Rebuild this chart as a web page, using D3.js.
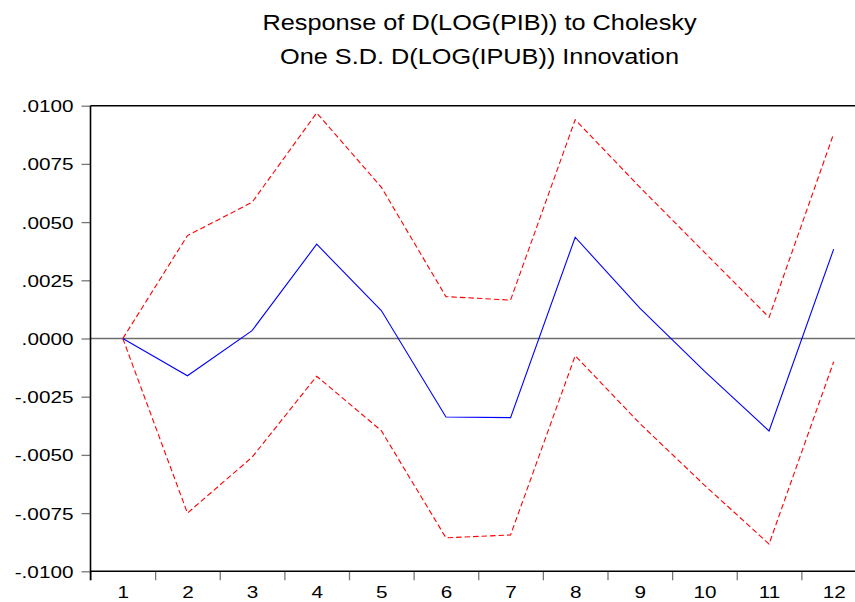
<!DOCTYPE html>
<html>
<head>
<meta charset="utf-8">
<script src="https://cdn.jsdelivr.net/npm/d3@7"></script>
<style>
  html, body { margin: 0; padding: 0; background: #fff; }
  svg { display: block; }
  text { font-family: "Liberation Sans", Arial, sans-serif; fill: #000; }
</style>
</head>
<body>
<script>
// Impulse response of D(LOG(PIB)) to a one S.D. D(LOG(IPUB)) shock, with ±2 S.E. bands
const periods = [1, 2, 3, 4, 5, 6, 7, 8, 9, 10, 11, 12];
const response = [0.0000, -0.0016, 0.00034, 0.00405, 0.0012, -0.00337, -0.0034, 0.00435, 0.0013, -0.0014, -0.00397, 0.00384];
const upperBand = [0.0000, 0.00442, 0.00585, 0.00969, 0.0065, 0.0018, 0.00165, 0.0094, 0.0065, 0.0037, 0.00091, 0.0088];
const lowerBand = [0.0000, -0.0075, -0.0051, -0.00162, -0.00396, -0.00856, -0.00844, -0.00074, -0.00365, -0.0063, -0.00883, -0.0010];
const yTicks = [0.01, 0.0075, 0.005, 0.0025, 0, -0.0025, -0.005, -0.0075, -0.01];
const titleLines = ["Response of D(LOG(PIB)) to Cholesky", "One S.D. D(LOG(IPUB)) Innovation"];

const W = 855, H = 602;
const plot = { left: 90.5, right: 866, top: 105.7, bottom: 571.3 };
const textStretch = 1.22;

const svg = d3.select("body").append("svg").attr("width", W).attr("height", H);

// x: continuous scale so the tick marks fall between periods
const x = d3.scaleLinear().domain([0.5, 12.5]).range([plot.left, plot.right]);
const y = d3.scaleLinear().domain([-0.01, 0.01]).range([plot.bottom, plot.top]);

// title
svg.append("g").selectAll("text").data(titleLines).join("text")
  .attr("text-anchor", "middle")
  .attr("font-size", 22)
  .attr("transform", (d, i) => `translate(479.5,${29.5 + i * 34.5}) scale(1.15,1)`)
  .text(d => d);

// zero reference line
svg.append("line")
  .attr("x1", plot.left).attr("x2", plot.right)
  .attr("y1", y(0)).attr("y2", y(0))
  .attr("stroke", "#6e6e6e").attr("stroke-width", 1.4);

// y axis
const yAxis = svg.append("g").attr("transform", `translate(${plot.left},0)`)
  .call(d3.axisLeft(y).tickValues(yTicks).tickSize(9)
    .tickFormat(d => {
      if (d === 0) return ".0000";
      const s = d3.format(".4f")(Math.abs(d)).replace(/^0/, "");
      return (d < 0 ? "-" : "") + s;
    }));
yAxis.select(".domain").remove();
yAxis.selectAll(".tick line").attr("stroke", "#777").attr("stroke-width", 1.3);
yAxis.selectAll(".tick text")
  .attr("x", 0).attr("dy", "0.35em")
  .attr("font-size", 17)
  .attr("transform", `translate(-17,0) scale(${textStretch},1)`);

// x axis: marks at the period boundaries
const bounds = d3.range(0.5, 12.6, 1);
const xMarks = svg.append("g").attr("transform", `translate(0,${plot.bottom})`)
  .call(d3.axisBottom(x).tickValues(bounds).tickSize(9).tickFormat(""));
xMarks.select(".domain").remove();
xMarks.selectAll(".tick line").attr("stroke", "#777").attr("stroke-width", 1.3);

// x axis: period labels at band centres
const xLabels = svg.append("g").attr("transform", `translate(0,${plot.bottom})`)
  .call(d3.axisBottom(x).tickValues(periods).tickSize(0).tickFormat(d3.format("d")));
xLabels.select(".domain").remove();
xLabels.selectAll(".tick text")
  .attr("y", 0).attr("dy", 0)
  .attr("font-size", 17)
  .attr("transform", `translate(0,26.5) scale(${textStretch},1)`);

// frame: left, top and bottom edges
const frame = svg.append("g").attr("stroke", "#000").attr("fill", "none");
frame.append("line").attr("x1", plot.left).attr("x2", plot.left)
  .attr("y1", plot.top).attr("y2", plot.bottom + 9).attr("stroke-width", 1.6);
frame.append("line").attr("x1", plot.left).attr("x2", plot.right)
  .attr("y1", plot.top).attr("y2", plot.top).attr("stroke-width", 1.5);
frame.append("line").attr("x1", plot.left).attr("x2", plot.right)
  .attr("y1", plot.bottom).attr("y2", plot.bottom).attr("stroke-width", 1.5);

// series
const line = d3.line().x((d, i) => x(periods[i])).y(d => y(d));

svg.append("path").datum(upperBand)
  .attr("d", line).attr("fill", "none")
  .attr("stroke", "#ff0000").attr("stroke-width", 1.1).attr("stroke-dasharray", "5.5,3");
svg.append("path").datum(lowerBand)
  .attr("d", line).attr("fill", "none")
  .attr("stroke", "#ff0000").attr("stroke-width", 1.1).attr("stroke-dasharray", "5.5,3");
svg.append("path").datum(response)
  .attr("d", line).attr("fill", "none")
  .attr("stroke", "#0000ff").attr("stroke-width", 1.1);
</script>
</body>
</html>
